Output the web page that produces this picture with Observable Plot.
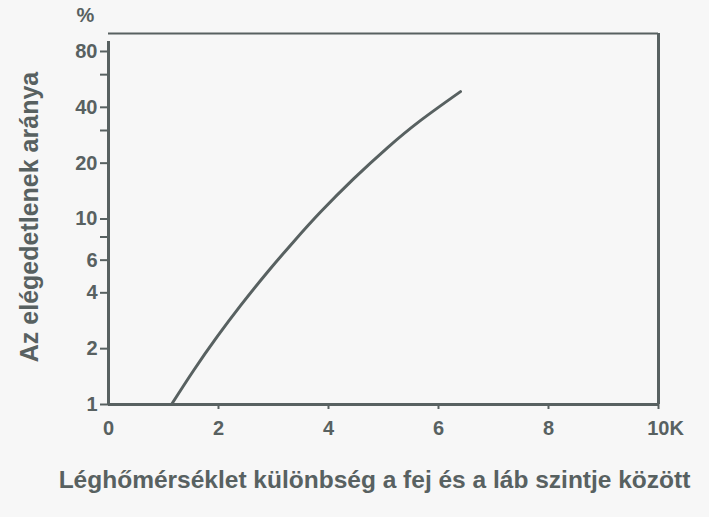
<!DOCTYPE html>
<html>
<head>
<meta charset="utf-8">
<script src="https://cdn.jsdelivr.net/npm/d3@7"></script>
<script src="https://cdn.jsdelivr.net/npm/@observablehq/plot@0.6"></script>
<style>
  html, body { margin: 0; padding: 0; background: #f7f7f7; }
  #chart svg { display: block; }
</style>
</head>
<body>
<div id="chart"></div>
<script>
// Curve: temperature difference (K) vs % dissatisfied
const diffK = [1.145, 1.55, 1.976, 2.4, 2.885, 3.37, 3.855, 4.46, 5.07, 5.67, 6.4];
const pctDissatisfied = [1.0, 1.53, 2.32, 3.41, 5.15, 7.57, 10.9, 16.5, 24.2, 33.9, 48.6];
const yMajorTicks = [1, 2, 4, 6, 10, 20, 40, 80];
const yMinorTicks = [8, 30, 60];
const xTicks = [0, 2, 4, 6, 8, 10];
const xTickLabels = ["0", "2", "4", "6", "8", "10K"];
const xTitle = "Léghőmérséklet különbség a fej és a láb szintje között";
const yTitle = "Az elégedetlenek aránya";
const yUnit = "%";

const data = diffK.map((x, i) => ({x, y: pctDissatisfied[i]}));
const xLabelData = xTicks.map((x, i) => ({x, label: xTickLabels[i]}));
const ink = "#586161";
const font = "Liberation Sans, Arial, sans-serif";

const chart = Plot.plot({
  width: 709,
  height: 517,
  marginLeft: 108,
  marginRight: 51,
  marginTop: 33,
  marginBottom: 113,
  style: {background: "#f7f7f7", fontFamily: font, color: ink},
  x: {domain: [0, 10]},
  y: {type: "log", domain: [1, 100]},
  marks: [
    Plot.axisY({ticks: yMajorTicks, tickSize: 8, tickFormat: () => "", stroke: ink, strokeWidth: 2, label: null}),
    Plot.axisY({ticks: yMinorTicks, tickSize: 8, tickFormat: () => "", stroke: ink, strokeWidth: 2, label: null}),
    Plot.axisX({ticks: xTicks.slice(1), tickSize: 5, tickFormat: () => "", stroke: ink, strokeWidth: 2, label: null}),
    Plot.text(yMajorTicks, {x: 0, y: d => d, text: d => String(d), textAnchor: "end", lineAnchor: "middle",
      dx: -11, fontSize: 20, fontWeight: "bold", fill: ink}),
    Plot.text(xLabelData.slice(0, 5), {x: "x", y: 1, text: "label", textAnchor: "middle", lineAnchor: "middle",
      dy: 24, fontSize: 20, fontWeight: "bold", fill: ink}),
    Plot.text(xLabelData.slice(5), {x: "x", y: 1, text: "label", textAnchor: "middle", lineAnchor: "middle",
      dx: 7, dy: 24, fontSize: 20, fontWeight: "bold", fill: ink}),
    Plot.ruleY([100], {stroke: ink, strokeWidth: 2}),
    Plot.ruleX([10], {stroke: ink, strokeWidth: 3}),
    Plot.ruleX([0], {stroke: ink, strokeWidth: 3, y1: 1, y2: 100, insetBottom: -8}),
    Plot.ruleY([1], {stroke: ink, strokeWidth: 3}),
    Plot.line(data, {x: "x", y: "y", stroke: ink, strokeWidth: 3, curve: "natural"}),
    Plot.text([yUnit], {frameAnchor: "top-left", dx: -23, dy: -18, textAnchor: "middle", lineAnchor: "middle",
      fontSize: 20, fontWeight: "bold", fill: ink}),
    Plot.text([yTitle], {frameAnchor: "left", dx: -79, dy: -2, rotate: -90, textAnchor: "middle", lineAnchor: "middle",
      fontSize: 25, fontWeight: "bold", fill: ink}),
    Plot.text([xTitle], {frameAnchor: "bottom", dx: -9, dy: 83, textAnchor: "middle", lineAnchor: "bottom",
      fontSize: 24.5, fontWeight: "bold", fill: ink})
  ]
});
document.getElementById("chart").appendChild(chart);
</script>
</body>
</html>
